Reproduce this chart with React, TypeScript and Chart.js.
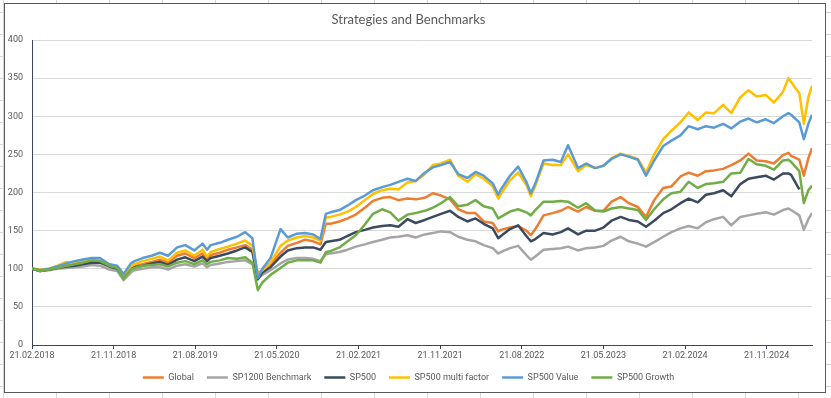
import { useEffect, useRef } from 'react';
import { Chart, registerables } from 'chart.js';

Chart.register(...registerables);

// Months elapsed since 21.02.2018 for every sampled point
const months = [
  0, 0.9, 1.9, 2.8, 3.8, 4.7, 5.6, 6.6, 7.5, 8.5,
  9.4, 10.1, 10.9, 11.3, 12.2, 13.2, 14.1, 15.0, 16.0, 16.9,
  17.9, 18.8, 19.3, 19.7, 20.7, 21.6, 22.6, 23.5, 24.3, 24.9,
  25.4, 26.3, 27.4, 28.2, 29.2, 30.1, 31.0, 31.8, 32.4, 32.9,
  33.9, 34.8, 35.7, 36.7, 37.6, 38.6, 39.5, 40.4, 41.4, 42.3,
  43.3, 44.2, 45.1, 46.1, 47.0, 48.0, 48.9, 49.8, 50.8, 51.4,
  51.7, 52.7, 53.6, 54.5, 55.0, 55.5, 56.4, 57.4, 58.3, 59.1,
  60.2, 61.1, 62.1, 63.0, 63.9, 64.9, 65.8, 66.8, 67.7, 68.6,
  69.6, 70.5, 71.5, 72.4, 73.4, 74.3, 75.2, 76.2, 77.1, 78.1,
  79.0, 79.9, 80.9, 81.8, 82.8, 83.4, 83.7, 84.6, 85.1, 85.6,
  86.0,
];

const globalVals = [
  100, 97, 99, 102, 104, 105, 107, 109, 109, 104,
  101, 90, 101, 103, 106, 109, 112, 108, 117, 120,
  114, 120, 113, 118, 121, 125, 128, 131, 125, 94,
  98, 106, 121, 130, 134, 138, 136, 132, 159, 159,
  162, 166, 171, 180, 189, 193, 194, 190, 192, 191,
  193, 199, 196, 191, 178, 173, 173, 162, 160, 149,
  151, 154, 156, 150, 144, 152, 170, 173, 176, 181,
  175, 181, 176, 176, 188, 194, 186, 181, 168, 190,
  206, 208, 221, 226, 222, 228, 229, 231, 236, 242,
  251, 242, 241, 238, 249, 252, 248, 243, 222, 245,
  258,
];

const sp1200Vals = [
  100, 97, 98, 100, 101, 102, 103, 105, 104, 99,
  97, 85, 95, 98, 100, 102, 102, 99, 104, 106,
  103, 107, 102, 105, 107, 109, 110, 111, 106, 87,
  92, 98, 107, 112, 114, 114, 113, 110, 119, 120,
  122, 125, 129, 132, 135, 138, 141, 142, 144, 141,
  145, 147, 149, 148, 142, 138, 136, 131, 127, 120,
  122, 127, 130, 118, 112, 116, 125, 126, 127, 129,
  124, 127, 128, 130, 137, 142, 136, 133, 129, 135,
  142, 148, 153, 156, 153, 161, 165, 168, 157, 168,
  170, 172, 174, 171, 177, 179, 177, 170, 151, 165,
  173,
];

const sp500Vals: (number | null)[] = [
  100, 97, 99, 101, 103, 104, 106, 108, 108, 103,
  100, 89, 100, 102, 104, 107, 109, 105, 112, 115,
  110, 116, 110, 114, 117, 120, 124, 128, 122, 86,
  95, 102, 116, 124, 127, 128, 128, 125, 135, 136,
  138, 143, 148, 151, 154, 156, 157, 155, 165, 160,
  164, 168, 172, 176, 168, 162, 166, 159, 153, 140,
  143, 152, 157, 143, 136, 139, 147, 145, 148, 153,
  145, 150, 150, 154, 163, 168, 164, 162, 155, 163,
  173, 178, 186, 192, 187, 197, 199, 203, 195, 211,
  218, 220, 222, 217, 225, 225, 223, 204, null, null,
  null,
];

const multiFactorVals = [
  100, 99, 100, 104, 109, 108, 110, 113, 112, 106,
  103, 92, 103, 106, 110, 113, 116, 111, 121, 124,
  117, 125, 116, 122, 126, 129, 133, 137, 130, 92,
  98, 108, 130, 137, 141, 143, 141, 137, 167, 168,
  171, 175, 181, 190, 198, 203, 205, 204, 213, 215,
  224, 236, 238, 243, 222, 214, 224, 218, 208, 192,
  198, 216, 226, 210, 195, 209, 238, 236, 236, 250,
  228, 236, 232, 235, 245, 251, 248, 244, 226, 250,
  270, 281, 292, 305, 295, 305, 304, 315, 304, 325,
  334, 326, 328, 318, 332, 350, 345, 330, 290, 325,
  340,
];

const valueVals = [
  100, 98, 100, 103, 107, 110, 112, 114, 114, 106,
  104, 93, 107, 110, 114, 117, 121, 117, 128, 131,
  124, 133, 125, 131, 134, 138, 142, 148, 140, 88,
  100, 114, 152, 141, 146, 147, 145, 139, 172, 174,
  177, 183, 190, 196, 203, 207, 210, 214, 218, 215,
  226, 233, 236, 240, 224, 219, 227, 222, 212, 197,
  204, 222, 234, 214, 199, 212, 242, 243, 240, 262,
  232, 238, 232, 235, 244, 250, 247, 243, 222, 242,
  261, 268, 275, 287, 283, 287, 285, 290, 284, 293,
  297, 292, 296, 291, 300, 304, 302, 292, 270, 290,
  302,
];

const growthVals = [
  101, 97, 99, 101, 104, 106, 108, 111, 110, 104,
  101, 87, 99, 101, 104, 105, 106, 103, 108, 110,
  106, 111, 106, 109, 111, 114, 113, 115, 108, 72,
  82, 92, 101, 108, 111, 111, 111, 108, 122, 123,
  128, 136, 144, 158, 172, 178, 174, 163, 171, 173,
  176, 180, 186, 194, 182, 184, 190, 182, 179, 166,
  168, 175, 178, 174, 170, 177, 188, 188, 189, 188,
  180, 186, 176, 175, 179, 181, 179, 177, 164, 178,
  191, 199, 201, 214, 206, 211, 212, 214, 225, 226,
  244, 237, 235, 230, 242, 243, 240, 228, 186, 203,
  209,
];

const tickLabels = [
  '21.02.2018', '21.11.2018', '21.08.2019', '21.05.2020', '21.02.2021',
  '21.11.2021', '21.08.2022', '21.05.2023', '21.02.2024', '21.11.2024',
];
const tickStepMonths = 9;
const lastMonth = 86;

const seriesNames = ['Global', 'SP1200 Benchmark', 'SP500', 'SP500 multi factor', 'SP500 Value', 'SP500 Growth'];
const seriesColors = ['#ED7D31', '#A5A5A5', '#3B4A5E', '#FFC000', '#5B9BD5', '#70AD47'];
const seriesValues = [globalVals, sp1200Vals, sp500Vals, multiFactorVals, valueVals, growthVals];

const axisFont = "Roboto, 'Liberation Sans', sans-serif";
const textColor = '#595959';
const axisLineColor = '#3B4656';

export default function App() {
  const canvasRef = useRef<HTMLCanvasElement | null>(null);

  useEffect(() => {
    const canvas = canvasRef.current;
    if (!canvas) return;
    const datasets = seriesNames.map((name, si) => ({
      label: name,
      data: months.map((m, i) => ({ x: m, y: seriesValues[si][i] })),
      borderColor: seriesColors[si],
      backgroundColor: seriesColors[si],
      borderWidth: 2.5,
      pointRadius: 0,
      pointHoverRadius: 0,
      tension: 0,
      fill: false,
      spanGaps: false,
      borderJoinStyle: 'round' as const,
      order: seriesNames.length - si,
    }));

    const chart = new Chart(canvas, {
      type: 'line',
      data: { datasets },
      options: {
        animation: false,
        responsive: false,
        maintainAspectRatio: false,
        events: [],
        layout: { padding: { left: 0, right: 13, top: 0, bottom: 0 } },
        plugins: {
          title: {
            display: true,
            text: 'Strategies and Benchmarks',
            color: textColor,
            font: { family: 'Lato', size: 13, weight: 'normal' },
            padding: { top: 8, bottom: 12.4 },
          },
          legend: {
            display: true,
            position: 'bottom',
            labels: {
              usePointStyle: true,
              pointStyle: 'line',
              pointStyleWidth: 21,
              boxHeight: 9,
              padding: 13,
              color: textColor,
              font: { family: axisFont, size: 9 },
              sort: (a: any, b: any) => a.datasetIndex - b.datasetIndex,
            },
          },
          tooltip: { enabled: false },
        },
        scales: {
          x: {
            type: 'linear',
            min: 0,
            max: lastMonth,
            afterBuildTicks: (scale: any) => {
              scale.ticks = tickLabels.map((_, i) => ({ value: i * tickStepMonths }));
            },
            afterFit: (scale: any) => {
              scale.height = 15;
            },
            ticks: {
              autoSkip: false,
              maxRotation: 0,
              minRotation: 0,
              padding: 1,
              color: textColor,
              font: { family: axisFont, size: 9 },
              callback: (value: any) => tickLabels[Math.round(Number(value) / tickStepMonths)] ?? '',
            },
            grid: {
              display: true,
              drawOnChartArea: false,
              drawTicks: true,
              tickLength: 4,
              color: axisLineColor,
            },
            border: { display: true, color: axisLineColor, width: 1 },
          },
          y: {
            min: 0,
            max: 400,
            afterFit: (scale: any) => {
              scale.width = 27;
            },
            ticks: {
              stepSize: 50,
              padding: 9,
              color: textColor,
              font: { family: axisFont, size: 9 },
            },
            grid: {
              color: '#D9D9D9',
              drawTicks: false,
            },
            border: { display: true, color: axisLineColor, width: 1 },
          },
        },
      },
    });
    return () => chart.destroy();
  }, []);

  return (
    <div
      style={{
        position: 'fixed',
        left: 0,
        top: 0,
        width: 831,
        height: 398,
        backgroundColor: '#ffffff',
        backgroundImage:
          'linear-gradient(to right, #d6d6d6 1px, transparent 1px), linear-gradient(to bottom, #d6d6d6 1px, transparent 1px)',
        backgroundSize: '53px 22px',
        backgroundPosition: '3px 12px',
      }}
    >
      <div
        style={{
          position: 'absolute',
          left: 4,
          top: 3,
          width: 822,
          height: 390,
          boxSizing: 'border-box',
          border: '1px solid #5a5a5a',
          background: '#ffffff',
        }}
      >
        <canvas ref={canvasRef} width={820} height={388} style={{ display: 'block', width: 820, height: 388 }} />
      </div>
    </div>
  );
}
